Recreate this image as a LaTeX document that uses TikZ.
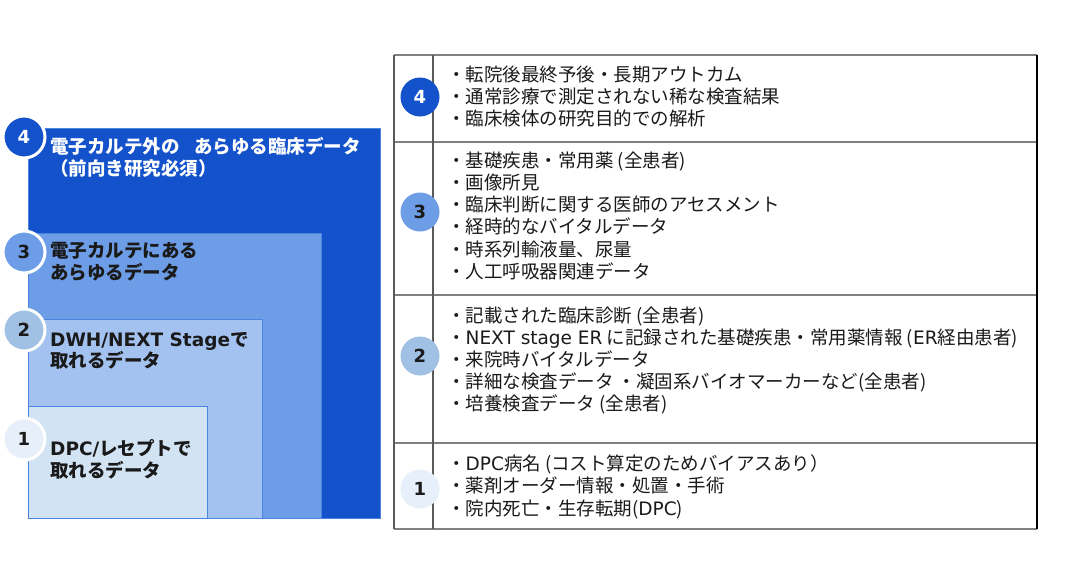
\documentclass[tikz,border=0pt]{standalone}
\usepackage{fontspec}
\setmainfont{Noto Sans CJK JP}
\newfontfamily\lat{DejaVu Sans}
\definecolor{cA}{HTML}{1352CB}
\definecolor{cB}{HTML}{6C9DE6}
\definecolor{cC}{HTML}{A4C2F0}
\definecolor{cD}{HTML}{D2E3F4}
\definecolor{kC}{HTML}{A0C0E4}
\definecolor{kD}{HTML}{E6EFFA}
\definecolor{edge}{HTML}{4A86E0}
\definecolor{txt}{HTML}{1A1A1A}
\definecolor{grid}{HTML}{808080}
\definecolor{vgrid}{HTML}{5A5A5A}
\begin{document}
\begin{tikzpicture}[x=1pt,y=-1pt,
  box/.style={draw=edge, line width=0.8pt, inner sep=0pt, outer sep=0pt, anchor=south west},
  lnum/.style={circle, draw=white, line width=3pt, minimum size=42pt, inner sep=0pt, font=\lat\bfseries\fontsize{18}{18}\selectfont},
  tnum/.style={circle, minimum size=39pt, inner sep=0pt, font=\lat\bfseries\fontsize{18}{18}\selectfont},
  ltxt/.style={anchor=base west, inner sep=0pt, font=\bfseries\fontsize{18.5}{22}\selectfont},
  ttxt/.style={anchor=base west, inner sep=0pt, text=txt, font=\fontsize{18.5}{22.3}\selectfont},
  hline/.style={draw=grid, line width=1.5pt},
  vline/.style={draw=vgrid, line width=1.2pt}]
\useasboundingbox[fill=white] (0,0) rectangle (1080,570);

% nested boxes
\node[box, fill=cA, minimum width=352pt, minimum height=390pt] (b4) at (28,518) {};
\node[box, fill=cB, minimum width=293pt, minimum height=285pt] (b3) at (28,518) {};
\node[box, fill=cC, minimum width=234pt, minimum height=199pt] (b2) at (28,518) {};
\node[box, fill=cD, minimum width=179pt, minimum height=112pt] (b1) at (28,518) {};

% left numbers
\node[lnum, fill=cA, text=white] (l4) at (24,137) {4};
\node[lnum, fill=cB, text=txt] (l3) at (24,252) {3};
\node[lnum, fill=kC, text=txt] (l2) at (24,330) {2};
\node[lnum, fill=kD, text=txt] (l1) at (24,439) {1};

% left texts
\node[ltxt, text=white] (t4a) at (50,153) {電子カルテ外の\hspace{0.8em}あらゆる臨床データ};
\node[ltxt, text=white] (t4b) at (50,175) {（前向き研究必須）};
\node[ltxt, text=txt] (t3a) at (50,257) {電子カルテにある};
\node[ltxt, text=txt] (t3b) at (50,279) {あらゆるデータ};
\node[ltxt, text=txt] (t2a) at (50,346.5) {{\lat DWH/NEXT Stage}で};
\node[ltxt, text=txt] (t2b) at (50,367) {取れるデータ};
\node[ltxt, text=txt] (t1a) at (50,455) {{\lat DPC/}レセプトで};
\node[ltxt, text=txt] (t1b) at (50,477) {取れるデータ};

% table grid
\draw[hline] (394,55) -- (1037,55);
\draw[hline] (394,142) -- (1037,142);
\draw[hline] (394,295) -- (1037,295);
\draw[hline] (394,443) -- (1037,443);
\draw[hline] (394,529) -- (1037,529);
\draw[vline] (394,55) -- (394,529);
\draw[vline] (433,55) -- (433,529);
\draw[line width=1.2pt, black] (1037,55) -- (1037,529);

% table numbers
\node[tnum, fill=cA, text=white] (r4) at (420,97) {4};
\node[tnum, fill=cB, text=txt] (r3) at (420,212) {3};
\node[tnum, fill=kC, text=txt] (r2) at (420,356) {2};
\node[tnum, fill=kD, text=txt] (r1) at (420,489) {1};

% table texts
\foreach \s [count=\i from 0] in {{・転院後最終予後・長期アウトカム},{・通常診療で測定されない稀な検査結果},{・臨床検体の研究目的での解析}}
  \node[ttxt] (x4-\i) at (447,81+22.3*\i) {\s};
\foreach \s [count=\i from 0] in {{・基礎疾患・常用薬 (全患者)},{・画像所見},{・臨床判断に関する医師のアセスメント},{・経時的なバイタルデータ},{・時系列輸液量、尿量},{・人工呼吸器関連データ}}
  \node[ttxt] (x3-\i) at (447,167+22.3*\i) {\s};
\foreach \s [count=\i from 0] in {{・記載された臨床診断 (全患者)},{・{\lat NEXT stage ER} に記録された基礎疾患・常用薬情報 ({\lat ER}経由患者)},{・来院時バイタルデータ},{・詳細な検査データ ・凝固系バイオマーカーなど(全患者)},{・培養検査データ (全患者)}}
  \node[ttxt] (x2-\i) at (447,322+22*\i) {\s};
\foreach \s [count=\i from 0] in {{・{\lat DPC}病名 (コスト算定のためバイアスあり）},{・薬剤オーダー情報・処置・手術},{・院内死亡・生存転期({\lat DPC})}}
  \node[ttxt] (x1-\i) at (447,470+22.5*\i) {\s};
\end{tikzpicture}
\end{document}
